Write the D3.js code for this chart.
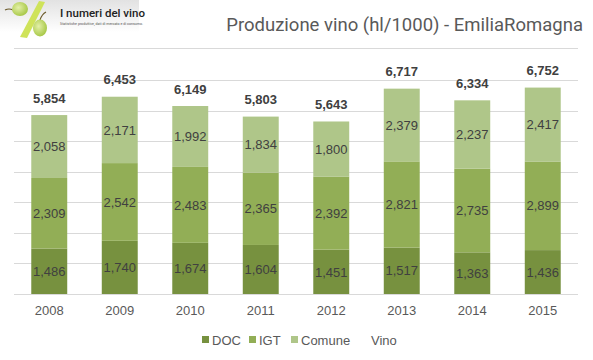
<!DOCTYPE html>
<html><head><meta charset="utf-8">
<script src="https://cdn.jsdelivr.net/npm/d3@7"></script>
<style>body{margin:0;background:#fff;}svg{display:block;}</style>
</head><body>
<svg id="c" width="593" height="360"></svg>
<script>
const years = ["2008","2009","2010","2011","2012","2013","2014","2015"];
const doc = [1486,1740,1674,1604,1451,1517,1363,1436];
const igt = [2309,2542,2483,2365,2392,2821,2735,2899];
const comune = [2058,2171,1992,1834,1800,2379,2237,2417];
const vino = [5854,6453,6149,5803,5643,6717,6334,6752];
const seriesNames = ["DOC","IGT","Comune"];
const seriesColors = ["#77913f","#92ae56","#afc689"];
const yTicks = [0,1000,2000,3000,4000,5000,6000,7000];
const title = "Produzione vino (hl/1000) - EmiliaRomagna";

const svg = d3.select("#c");
const fmt = d3.format(",");

// logo
const defs = svg.append("defs");
const g1 = defs.append("linearGradient").attr("id","lg").attr("x1",0).attr("x2",0).attr("y1",0).attr("y2",1);
g1.append("stop").attr("offset","0").attr("stop-color","#e2e2e2");
g1.append("stop").attr("offset","1").attr("stop-color","#ffffff");
const g2 = defs.append("linearGradient").attr("id","lg2").attr("x1",0).attr("x2",1);
g2.append("stop").attr("offset","0").attr("stop-color","#ffffff").attr("stop-opacity",0);
g2.append("stop").attr("offset","0.15").attr("stop-color","#ffffff").attr("stop-opacity",0);
g2.append("stop").attr("offset","1").attr("stop-color","#ffffff").attr("stop-opacity",0.9);
svg.append("rect").attr("x",0).attr("y",0).attr("width",139).attr("height",32).attr("fill","url(#lg)");
const rg = defs.append("radialGradient").attr("id","gr").attr("cx","40%").attr("cy","40%").attr("r","60%");
rg.append("stop").attr("offset","0").attr("stop-color","#e4f0a8");
rg.append("stop").attr("offset","1").attr("stop-color","#a9c94a");
svg.append("path").attr("d","M5,10 Q9,8 13,10").attr("stroke","#6b5a2a").attr("stroke-width",1.2).attr("fill","none");
svg.append("ellipse").attr("cx",20).attr("cy",9).attr("rx",8).attr("ry",7).attr("fill","url(#gr)");
svg.append("path").attr("d","M39,1 L45,2 L27,38 L20,37 Z").attr("fill","#cfe35a");
svg.append("path").attr("d","M40,20 Q42,14 46,12").attr("stroke","#6b5a2a").attr("stroke-width",1.2).attr("fill","none");
svg.append("ellipse").attr("cx",40).attr("cy",28).attr("rx",7).attr("ry",8.5).attr("fill","url(#gr)");
svg.append("text").attr("x",60).attr("y",17).attr("font-family","Roboto, sans-serif").attr("font-size",11.5).attr("font-weight",500).attr("fill","#222").text("I numeri del vino");
svg.append("text").attr("x",60).attr("y",25).attr("font-family","Roboto, sans-serif").attr("font-size",3.6).attr("fill","#555").text("Statistiche produttive, dati di mercato e di consumo.");

// title
svg.append("text").attr("x",583).attr("y",31).attr("text-anchor","end")
  .attr("font-family","Roboto, sans-serif").attr("font-size",18.5).attr("fill","#595959").text(title);
svg.append("line").attr("x1",14).attr("x2",578).attr("y1",48.5).attr("y2",48.5).attr("stroke","#d9d9d9").attr("stroke-width",1);

// chart
const x = d3.scaleBand().domain(years).range([14,578]).paddingInner(0.49).paddingOuter(0.245);
const y = d3.scaleLinear().domain([0,7000]).range([294,80]);

const grid = svg.append("g");
grid.selectAll("line").data(yTicks).join("line")
  .attr("x1",14).attr("x2",578).attr("y1",d=>Math.round(y(d))+0.5).attr("y2",d=>Math.round(y(d))+0.5)
  .attr("stroke","#d9d9d9").attr("stroke-width",1);

const rows = years.map((yr,i)=>({year:yr, DOC:doc[i], IGT:igt[i], Comune:comune[i]}));
const stack = d3.stack().keys(seriesNames)(rows);

const layers = svg.append("g").selectAll("g").data(stack).join("g").attr("fill",(d,i)=>seriesColors[i]);
layers.selectAll("rect").data(d=>d).join("rect")
  .attr("x",d=>x(d.data.year)).attr("width",x.bandwidth())
  .attr("y",d=>y(d[1])).attr("height",d=>y(d[0])-y(d[1]));

const labels = svg.append("g").attr("font-family","Liberation Sans, Arial, sans-serif").attr("font-size",13).attr("fill","#404040").attr("text-anchor","middle");
stack.forEach(layer=>{
  labels.selectAll(null).data(layer).join("text")
    .attr("x",d=>x(d.data.year)+x.bandwidth()/2)
    .attr("y",d=>(y(d[0])+y(d[1]))/2)
    .attr("dy","0.36em")
    .text(d=>fmt(d[1]-d[0]));
});

svg.append("g").attr("font-family","Liberation Sans, Arial, sans-serif").attr("font-size",13).attr("font-weight","bold").attr("fill","#404040").attr("text-anchor","middle")
  .selectAll("text").data(years).join("text")
  .attr("x",d=>x(d)+x.bandwidth()/2)
  .attr("y",(d,i)=>y(vino[i])-17)
  .attr("dy","0.36em")
  .text((d,i)=>fmt(vino[i]));

// x axis
const xAxis = svg.append("g").attr("transform","translate(0,294)").call(d3.axisBottom(x).tickSize(0).tickPadding(12));
xAxis.select(".domain").remove();
xAxis.selectAll("text").attr("font-family","Liberation Sans, Arial, sans-serif").attr("font-size",13).attr("fill","#595959");

// legend
const legItems = [{n:"DOC",c:seriesColors[0],x:202},{n:"IGT",c:seriesColors[1],x:249},{n:"Comune",c:seriesColors[2],x:291},{n:"Vino",c:null,x:361}];
const leg = svg.append("g");
legItems.forEach(it=>{
  if(it.c) leg.append("rect").attr("x",it.x).attr("y",336).attr("width",7).attr("height",7).attr("fill",it.c);
  leg.append("text").attr("x",it.x+10).attr("y",340).attr("dy","0.36em")
    .attr("font-family","Liberation Sans, Arial, sans-serif").attr("font-size",13).attr("fill","#595959").text(it.n);
});
</script>
</body></html>
